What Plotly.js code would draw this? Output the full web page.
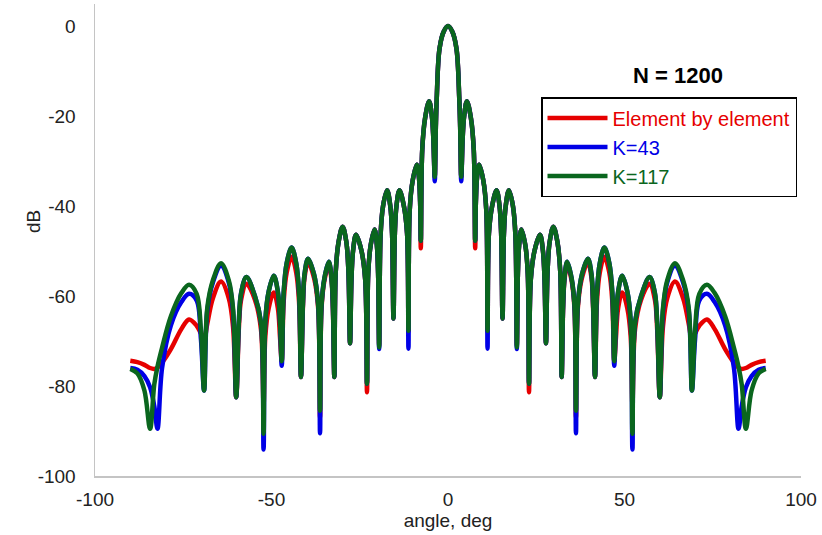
<!DOCTYPE html>
<html>
<head>
<meta charset="utf-8">
<script src="https://cdn.plot.ly/plotly-3.0.1.min.js"></script>
<style>
html, body { margin: 0; padding: 0; background: #ffffff; }
#chart { width: 822px; height: 535px; }
</style>
</head>
<body>
<div id="chart"></div>
<script>
// Steering angle (deg)
const angleDeg = [
  -90, -88, -86, -84.4, -83.2, -82.3, -81, -78.5, -75.5, -73.35,
  -71.2, -70, -69.1, -68.2, -66.6, -64.3, -62.1, -60.9, -60, -59.25,
  -58.6, -57.1, -54.7, -53, -52.25, -51.75, -50.8, -49.35, -48.2, -47.6,
  -47.1, -46.55, -45.7, -44.3, -43, -42.2, -41.65, -41.1, -40.65, -39.65,
  -37.95, -36.8, -36.25, -35.85, -35, -33.75, -33, -32.6, -32.2, -31.8,
  -31, -29.85, -28.8, -28.2, -27.75, -27.35, -26.9, -26.05, -24.5, -23.45,
  -22.95, -22.6, -21.9, -20.8, -20.15, -19.8, -19.5, -19.1, -18.4, -17.25,
  -16.35, -15.85, -15.45, -15.05, -14.6, -13.75, -12.5, -11.6, -11.2, -10.85,
  -10, -8.85, -8.25, -7.9, -7.7, -7.3, -6.5, -5.35, -4.55, -4.15,
  -3.75, -3.45, -3.2, -2.4, -1.2,
  0,
  1.2, 2.4, 3.2, 3.45, 3.75, 4.15, 4.55, 5.35, 6.5, 7.3,
  7.7, 7.9, 8.25, 8.85, 10, 10.85, 11.2, 11.6, 12.5, 13.75,
  14.6, 15.05, 15.45, 15.85, 16.35, 17.25, 18.4, 19.1, 19.5, 19.8,
  20.15, 20.8, 21.9, 22.6, 22.95, 23.45, 24.5, 26.05, 26.9, 27.35,
  27.75, 28.2, 28.8, 29.85, 31, 31.8, 32.2, 32.6, 33, 33.75,
  35, 35.85, 36.25, 36.8, 37.95, 39.65, 40.65, 41.1, 41.65, 42.2,
  43, 44.3, 45.7, 46.55, 47.1, 47.6, 48.2, 49.35, 50.8, 51.75,
  52.25, 53, 54.7, 57.1, 58.6, 59.25, 60, 60.9, 62.1, 64.3,
  66.6, 68.2, 69.1, 70, 71.2, 73.35, 75.5, 78.5, 81, 82.3,
  83.2, 84.4, 86, 88, 90
];

// Element by element (dB)
const elementByElementDb = [
  -74.4, -74.7, -75.3, -76.0, -76.2, -75.9, -74.8, -71.8, -67.3, -65.2,
  -66.6, -68.3, -69.5, -66.2, -60.5, -56.8, -60.5, -66.8, -82.5, -67.3,
  -60.8, -57.3, -60.8, -67.3, -84, -69, -62.7, -59.2, -62.7, -69,
  -74.5, -61.3, -54.8, -51.3, -54.8, -61.3, -78, -62.5, -56, -52.5,
  -56, -62.5, -87, -63, -56.5, -53, -56.5, -63, -78, -54.6,
  -48, -44.6, -48, -54.6, -70.5, -56.4, -50, -46.4, -50, -56.4,
  -81.4, -55, -48.7, -45.2, -48.7, -55, -71, -46.5, -40, -36.5,
  -40, -46, -65, -46, -40, -36.5, -40, -46, -68, -41,
  -34.3, -30.8, -33.5, -39, -49.4, -27.5, -20.5, -16.7, -20.2, -25,
  -33.5, -22.5, -16.3, -5, -1.2,
  0,
  -1.2, -5, -16.3, -22.5, -33.5, -25, -20.2, -16.7, -20.5, -27.5,
  -49.4, -39, -33.5, -30.8, -34.3, -41, -68, -46, -40, -36.5,
  -40, -46, -65, -46, -40, -36.5, -40, -46.5, -71, -55,
  -48.7, -45.2, -48.7, -55, -81.4, -56.4, -50, -46.4, -50, -56.4,
  -70.5, -54.6, -48, -44.6, -48, -54.6, -78, -63, -56.5, -53,
  -56.5, -63, -87, -62.5, -56, -52.5, -56, -62.5, -78, -61.3,
  -54.8, -51.3, -54.8, -61.3, -74.5, -69, -62.7, -59.2, -62.7, -69,
  -84, -67.3, -60.8, -57.3, -60.8, -67.3, -82.5, -66.8, -60.5, -56.8,
  -60.5, -66.2, -69.5, -68.3, -66.6, -65.2, -67.3, -71.8, -74.8, -75.9,
  -76.2, -76.0, -75.3, -74.7, -74.4
];

// K = 43 (dB)
const k43Db = [
  -76, -76.4, -77.8, -80.3, -84.5, -89.5, -76, -66.5, -61.3, -59.5,
  -61, -69.5, -81, -63.3, -57, -53.3, -57, -63.3, -82.5, -65.8,
  -59.3, -55.8, -60, -65.8, -94.1, -65.5, -59, -55.5, -59, -65.5,
  -75.5, -59.2, -52.7, -49.2, -52.7, -59.2, -78, -61.7, -55.2, -51.7,
  -55.2, -61.7, -90.5, -62.4, -56, -52.4, -56, -62.4, -78, -54.6,
  -48, -44.6, -48, -54.6, -70.5, -56.4, -50, -46.4, -50, -56.4,
  -79.5, -55, -48.7, -45.2, -48.7, -55, -71.8, -46.5, -40, -36.5,
  -40, -46, -65, -46, -40, -36.5, -40, -46, -71.7, -41,
  -34.3, -30.8, -33.5, -39, -47.7, -27.5, -20.5, -16.7, -20.2, -25,
  -34.5, -22.5, -16.3, -5, -1.2,
  0,
  -1.2, -5, -16.3, -22.5, -34.5, -25, -20.2, -16.7, -20.5, -27.5,
  -47.7, -39, -33.5, -30.8, -34.3, -41, -71.7, -46, -40, -36.5,
  -40, -46, -65, -46, -40, -36.5, -40, -46.5, -71.8, -55,
  -48.7, -45.2, -48.7, -55, -79.5, -56.4, -50, -46.4, -50, -56.4,
  -70.5, -54.6, -48, -44.6, -48, -54.6, -78, -62.4, -56, -52.4,
  -56, -62.4, -90.5, -61.7, -55.2, -51.7, -55.2, -61.7, -78, -59.2,
  -52.7, -49.2, -52.7, -59.2, -75.5, -65.5, -59, -55.5, -59, -65.5,
  -94.1, -65.8, -60, -55.8, -59.3, -65.8, -82.5, -63.3, -57, -53.3,
  -57, -63.3, -81, -69.5, -61, -59.5, -61.3, -66.5, -76, -89.5,
  -84.5, -80.3, -77.8, -76.4, -76
];

// K = 117 (dB)
const k117Db = [
  -76.2, -77.2, -81, -89.5, -79.6, -75.7, -71.5, -64.5, -59.3, -57.5,
  -59.5, -67.5, -81, -62.7, -56.5, -52.7, -56.5, -62.7, -82.5, -65.8,
  -59.3, -55.8, -60, -65.8, -90.6, -65.5, -59, -55.5, -59, -65.5,
  -74.5, -59.2, -52.7, -49.2, -52.7, -59.2, -78, -61.7, -55.2, -51.7,
  -55.2, -61.7, -85.5, -62.4, -56, -52.4, -56, -62.4, -78, -54.6,
  -48, -44.6, -48, -54.6, -70.5, -56.4, -50, -46.4, -50, -56.4,
  -79.5, -55, -48.7, -45.2, -48.7, -55, -71.4, -46.5, -40, -36.5,
  -40, -46, -65, -46, -40, -36.5, -40, -46, -67.7, -41,
  -34.3, -30.8, -33.5, -39, -47.7, -27.5, -20.5, -16.7, -20.2, -25,
  -33.5, -22.5, -16.3, -5, -1.2,
  0,
  -1.2, -5, -16.3, -22.5, -33.5, -25, -20.2, -16.7, -20.5, -27.5,
  -47.7, -39, -33.5, -30.8, -34.3, -41, -67.7, -46, -40, -36.5,
  -40, -46, -65, -46, -40, -36.5, -40, -46.5, -71.4, -55,
  -48.7, -45.2, -48.7, -55, -79.5, -56.4, -50, -46.4, -50, -56.4,
  -70.5, -54.6, -48, -44.6, -48, -54.6, -78, -62.4, -56, -52.4,
  -56, -62.4, -85.5, -61.7, -55.2, -51.7, -55.2, -61.7, -78, -59.2,
  -52.7, -49.2, -52.7, -59.2, -74.5, -65.5, -59, -55.5, -59, -65.5,
  -90.6, -65.8, -60, -55.8, -59.3, -65.8, -82.5, -62.7, -56.5, -52.7,
  -56.5, -62.7, -81, -67.5, -59.5, -57.5, -59.3, -64.5, -71.5, -75.7,
  -79.6, -89.5, -81, -77.2, -76.2
];

const seriesNames = ['Element by element', 'K=43', 'K=117'];
const seriesColors = ['#e60000', '#0000e6', '#0a661e'];
const xTicks = [-100, -50, 0, 50, 100];
const yTicks = [0, -20, -40, -60, -80, -100];
const chartTitle = 'N = 1200';
const xTitle = 'angle, deg';
const yTitle = 'dB';

const ys = [elementByElementDb, k43Db, k117Db];
const traces = ys.map((y, i) => ({
  type: 'scatter',
  mode: 'lines',
  x: angleDeg,
  y: y,
  name: '<span style="color:' + seriesColors[i] + '">' + seriesNames[i] + '</span>',
  line: { color: seriesColors[i], width: 4.5, shape: 'spline', smoothing: 1 },
  hoverinfo: 'skip'
}));

const font = 'Liberation Sans, Arial, sans-serif';
const layout = {
  width: 822,
  height: 535,
  margin: { l: 95, r: 21, t: 4, b: 59 },
  paper_bgcolor: '#ffffff',
  plot_bgcolor: '#ffffff',
  font: { family: font, size: 19, color: '#222222' },
  title: {
    text: '<b>' + chartTitle + '</b>',
    font: { family: font, size: 22, color: '#000000' },
    x: 678 / 822, xanchor: 'center', xref: 'container',
    y: 1 - 75 / 535, yanchor: 'middle', yref: 'container'
  },
  xaxis: {
    range: [-100, 100],
    tickvals: xTicks,
    ticktext: xTicks.map(String),
    showgrid: false, zeroline: false,
    showline: true, linecolor: '#c4c4c4', linewidth: 1.5,
    ticks: '', ticklabelstandoff: 6,
    tickfont: { family: font, size: 19, color: '#222222' },
    title: { text: xTitle, font: { family: font, size: 19, color: '#222222' }, standoff: 2 }
  },
  yaxis: {
    range: [-100, 4.9],
    tickvals: yTicks,
    ticktext: yTicks.map(String),
    showgrid: false, zeroline: false,
    showline: true, linecolor: '#c4c4c4', linewidth: 1.5,
    ticks: '', ticklabelstandoff: 14,
    tickfont: { family: font, size: 19, color: '#222222' }
  },
  annotations: [{
    text: yTitle, textangle: -90,
    xref: 'paper', yref: 'paper',
    x: (33 - 95) / 706, y: (476 - 222) / 472,
    xanchor: 'center', yanchor: 'middle',
    showarrow: false,
    font: { family: font, size: 19, color: '#222222' }
  }],
  showlegend: true,
  legend: {
    x: (541 - 95) / 706, xanchor: 'left',
    y: (476 - 97) / 472, yanchor: 'top',
    bgcolor: '#ffffff',
    bordercolor: '#000000', borderwidth: 1.5,
    itemwidth: 60,
    font: { family: font, size: 20 },
    traceorder: 'normal'
  }
};

Plotly.newPlot('chart', traces, layout, { staticPlot: true, displayModeBar: false });
</script>
</body>
</html>
